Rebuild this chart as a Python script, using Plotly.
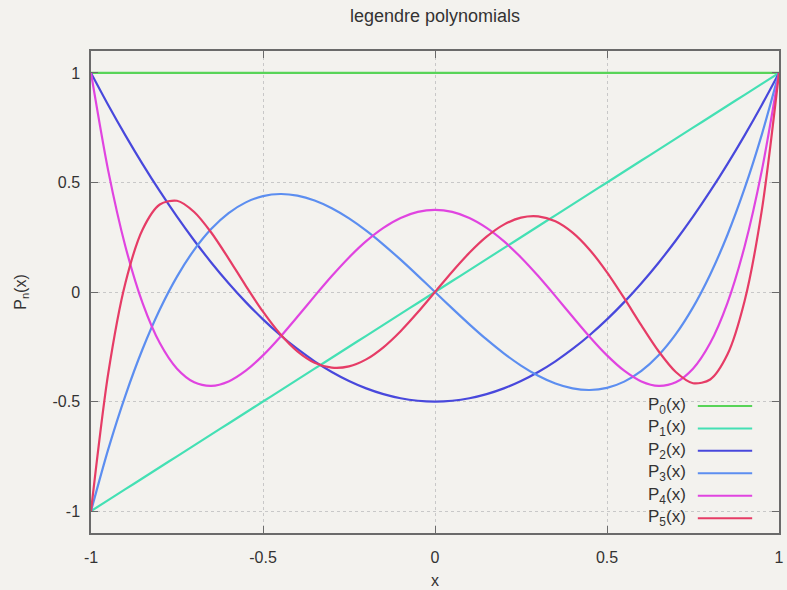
import plotly.graph_objects as go

x_vals = [-1.00, -0.95, -0.90, -0.85, -0.80, -0.75, -0.70, -0.65, -0.60, -0.55, -0.50,
          -0.45, -0.40, -0.35, -0.30, -0.25, -0.20, -0.15, -0.10, -0.05, 0.00,
          0.05, 0.10, 0.15, 0.20, 0.25, 0.30, 0.35, 0.40, 0.45, 0.50,
          0.55, 0.60, 0.65, 0.70, 0.75, 0.80, 0.85, 0.90, 0.95, 1.00]

p0 = [1.0] * 41
p1 = [-1.00, -0.95, -0.90, -0.85, -0.80, -0.75, -0.70, -0.65, -0.60, -0.55, -0.50,
      -0.45, -0.40, -0.35, -0.30, -0.25, -0.20, -0.15, -0.10, -0.05, 0.00,
      0.05, 0.10, 0.15, 0.20, 0.25, 0.30, 0.35, 0.40, 0.45, 0.50,
      0.55, 0.60, 0.65, 0.70, 0.75, 0.80, 0.85, 0.90, 0.95, 1.00]
p2 = [1, 0.85375, 0.715, 0.58375, 0.46, 0.34375, 0.235, 0.13375, 0.04, -0.04625, -0.125,
      -0.19625, -0.26, -0.31625, -0.365, -0.40625, -0.44, -0.46625, -0.485, -0.49625, -0.5,
      -0.49625, -0.485, -0.46625, -0.44, -0.40625, -0.365, -0.31625, -0.26, -0.19625, -0.125,
      -0.04625, 0.04, 0.13375, 0.235, 0.34375, 0.46, 0.58375, 0.715, 0.85375, 1]
p3 = [-1, -0.7184, -0.4725, -0.2603, -0.08, 0.0703, 0.1925, 0.2884, 0.36, 0.4091, 0.4375,
      0.4472, 0.44, 0.4178, 0.3825, 0.3359, 0.28, 0.2166, 0.1475, 0.0747, 0,
      -0.0747, -0.1475, -0.2166, -0.28, -0.3359, -0.3825, -0.4178, -0.44, -0.4472, -0.4375,
      -0.4091, -0.36, -0.2884, -0.1925, -0.0703, 0.08, 0.2603, 0.4725, 0.7184, 1]
p4 = [1, 0.5541, 0.2079, -0.0506, -0.233, -0.3501, -0.4121, -0.4284, -0.408, -0.3590, -0.2891,
      -0.2050, -0.113, -0.0187, 0.0729, 0.1577, 0.232, 0.2928, 0.3379, 0.3657, 0.375,
      0.3657, 0.3379, 0.2928, 0.232, 0.1577, 0.0729, -0.0187, -0.113, -0.2050, -0.2891,
      -0.3590, -0.408, -0.4284, -0.4121, -0.3501, -0.233, -0.0506, 0.2079, 0.5541, 1]
p5 = [-1, -0.3727, 0.0411, 0.2857, 0.3995, 0.4164, 0.3652, 0.2705, 0.1526, 0.0282, -0.0898,
      -0.1917, -0.2706, -0.3225, -0.3454, -0.3397, -0.3075, -0.2523, -0.1788, -0.0927, 0,
      0.0927, 0.1788, 0.2523, 0.3075, 0.3397, 0.3454, 0.3225, 0.2706, 0.1917, 0.0898,
      -0.0282, -0.1526, -0.2705, -0.3652, -0.4164, -0.3995, -0.2857, -0.0411, 0.3727, 1]

series_names = ["P<sub>0</sub>(x)", "P<sub>1</sub>(x)", "P<sub>2</sub>(x)",
                "P<sub>3</sub>(x)", "P<sub>4</sub>(x)", "P<sub>5</sub>(x)"]
series_data = [p0, p1, p2, p3, p4, p5]
colors = ["#58d458", "#44e0b4", "#4848dc", "#5c8ef0", "#e044e0", "#e63c66"]

x_ticks = [-1, -0.5, 0, 0.5, 1]
x_tick_text = ["-1", "-0.5", "0", "0.5", "1"]
y_ticks = [-1, -0.5, 0, 0.5, 1]
y_tick_text = ["-1", "-0.5", "0", "0.5", "1"]

fig = go.Figure()
for name, ys, c in zip(series_names, series_data, colors):
    fig.add_trace(go.Scatter(x=x_vals, y=ys, mode="lines", name=name,
                             line=dict(color=c, width=2.2, shape="spline", smoothing=0.8),
                             showlegend=False))

# custom gnuplot-style key: text then line sample
legend_y0 = -0.52
legend_step = 0.1025
for i, (name, c) in enumerate(zip(series_names, colors)):
    yy = legend_y0 - i * legend_step
    fig.add_annotation(x=0.868, xref="paper", y=yy, yref="y", text=name,
                       showarrow=False, xanchor="right", yanchor="middle",
                       font=dict(size=17, color="#333333"))
    fig.add_shape(type="line", xref="paper", yref="y", x0=0.882, x1=0.961, y0=yy, y1=yy,
                  line=dict(color=c, width=2))

axis_common = dict(showline=True, linecolor="#6a6a6a", linewidth=1.5, mirror="allticks",
                   ticks="inside", ticklen=7, tickcolor="#6a6a6a", tickwidth=1.2,
                   showgrid=True, gridcolor="#c8c8c8", griddash="dot", gridwidth=1,
                   zeroline=False, tickfont=dict(size=16, color="#333333"))

fig.update_xaxes(range=[-1, 1], tickvals=x_ticks, ticktext=x_tick_text,
                 ticklabelstandoff=9,
                 title=dict(text="x", font=dict(size=16, color="#333333"), standoff=10),
                 **axis_common)
fig.update_yaxes(range=[-1.1, 1.1], tickvals=y_ticks, ticktext=y_tick_text,
                 ticklabelstandoff=6,
                 title=dict(text="P<sub>n</sub>(x)", font=dict(size=16, color="#333333"), standoff=22),
                 **axis_common)

fig.update_layout(
    width=787, height=590,
    margin=dict(l=91, r=3, t=51, b=57),
    paper_bgcolor="#f3f2ee", plot_bgcolor="#f3f2ee",
    font=dict(family="Liberation Sans, Arial, sans-serif", color="#333333"),
    title=dict(text="legendre polynomials", x=0.5, xref="paper", xanchor="center",
               y=1 - 16 / 590, yref="container", yanchor="middle",
               font=dict(size=18, color="#333333")),
)

fig.write_html("out.html")
